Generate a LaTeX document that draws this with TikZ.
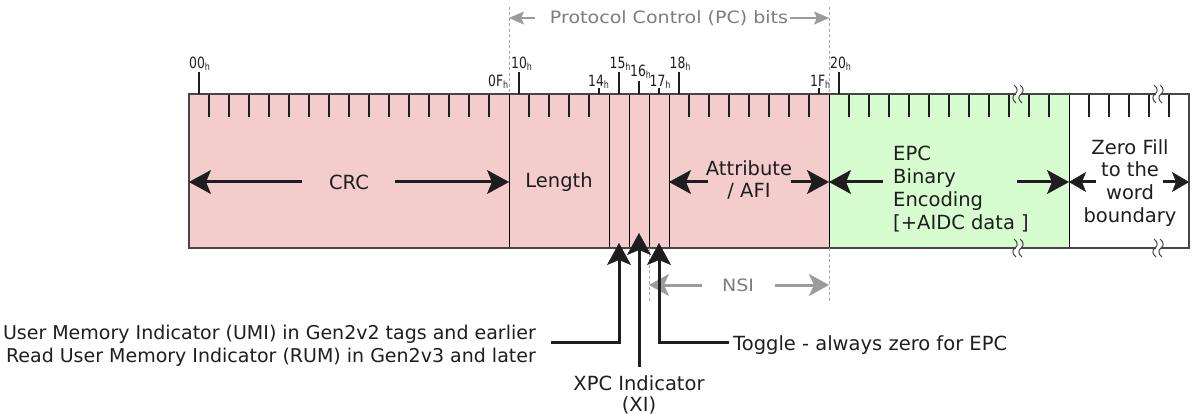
\documentclass[tikz,border=0pt]{standalone}
\usepackage{fontspec}
\setmainfont{DejaVu Sans}
\newfontfamily\hexfont[FakeStretch=0.8]{DejaVu Sans}
\newfontfamily\grayfont[FakeStretch=1.12]{DejaVu Sans}
\usetikzlibrary{arrows.meta}
\definecolor{pinkf}{RGB}{244,204,204}
\definecolor{greenf}{RGB}{214,252,208}
\definecolor{ink}{RGB}{30,30,30}
\definecolor{framec}{RGB}{70,70,70}
\definecolor{graytxt}{RGB}{125,125,125}
\definecolor{grayarr}{RGB}{155,155,155}
\definecolor{graydash}{RGB}{165,165,165}
\newcommand{\hexlab}[1]{#1\raisebox{-2.4pt}{\fontsize{10}{10}\selectfont h}}
\tikzset{
  bigarrow/.style={draw=ink, line width=3pt, line join=miter, -{Stealth[length=22pt,width=24pt,inset=5pt,line width=0.5pt]}},
  zfarrow/.style={draw=ink, line width=3pt, -{Stealth[length=17pt,width=20pt,inset=4pt,line width=0.5pt]}},
  nsiarrow/.style={draw=grayarr, line width=3pt, -{Stealth[length=20pt,width=22pt,inset=5pt,line width=0.5pt]}},
  pcarrow/.style={draw=grayarr, line width=2pt, -{Stealth[length=15pt,width=13pt,inset=3pt,line width=0.5pt]}},
  maintxt/.style={font=\fontsize{19.5}{22.8}\selectfont, inner sep=0pt, text=ink},
  graylabel/.style={font=\grayfont\fontsize{17}{19}\selectfont, inner sep=0pt, text=graytxt},
  hexnode/.style={font=\hexfont\fontsize{15.5}{15.5}\selectfont, inner sep=0pt, anchor=base west, text=ink},
  bittick/.style={draw=ink, line width=1.2pt},
  fieldline/.style={draw=black, line width=1pt},
  dashline/.style={draw=graydash, line width=0.8pt, dash pattern=on 3pt off 2.5pt},
  breakwave/.style={draw=framec, line width=1pt},
}
\begin{document}
\begin{tikzpicture}[x=1pt,y=-1pt]
\useasboundingbox (0,0) rectangle (1193,414);
% fills
\fill[pinkf] (189,94) rectangle (829,248);
\fill[greenf] (829,94) rectangle (1069,248);
\fill[white] (1069,94) rectangle (1189,248);
% inner bit ticks
\foreach \k in {1,...,15,17,18,19,20,25,26,...,31,33,34,...,43,45,46,47,48,49}
  \draw[bittick] (189+20*\k,94) -- ++(0,23.5);
% field lines
\foreach \fx in {509,609,629,649,669,829,1069}
  \draw[fieldline] (\fx,94) -- (\fx,248);
% frame
\draw[draw=framec, line width=1.5pt] (189,94) rectangle (1189,248);
% break marks
\foreach \bx/\by in {1018/94,1018/248,1158/94,1158/248}{
  \fill[white] (\bx-2.5,\by-1.6) rectangle (\bx+2.5,\by+1.6);
  \foreach \o in {-3,3}
    \draw[breakwave] (\bx+\o-1,\by-9) .. controls (\bx+\o+3,\by-6) and (\bx+\o+3,\by-2) .. (\bx+\o,\by)
      .. controls (\bx+\o-3,\by+2) and (\bx+\o-3,\by+6) .. (\bx+\o+1,\by+9);
}
% ticks above the frame
\foreach \tx in {199,519,619,679,839} \draw[bittick] (\tx,72) -- (\tx,94);
\draw[bittick] (639,81) -- (639,94);
\foreach \tx in {599,659,819} \draw[bittick] (\tx,88) -- (\tx,94);
% hex labels
\node[hexnode] (h00) at (189,68.5) {\hexlab{00}};
\node[hexnode] (h10) at (511,68.5) {\hexlab{10}};
\node[hexnode] (h15) at (609.5,68.5) {\hexlab{15}};
\node[hexnode] (h18) at (669.5,68.5) {\hexlab{18}};
\node[hexnode] (h20) at (830,68.5) {\hexlab{20}};
\node[hexnode] (h16) at (630,76.5) {\hexlab{16}};
\node[hexnode] (h0F) at (488,86.5) {\hexlab{0F}};
\node[hexnode] (h14) at (588,86.5) {\hexlab{14}};
\node[hexnode] (h17) at (649.5,86.5) {\hexlab{17}};
\node[hexnode] (h1F) at (810,86.5) {\hexlab{1F}};
% dashed guides
\draw[dashline] (509,7) -- (509,94);
\draw[dashline] (829,7) -- (829,94);
\draw[dashline] (829,248) -- (829,303);
\draw[dashline] (649,248) -- (649,303);
% PC bits
\node[graylabel] (pc) at (669,18) {Protocol Control (PC) bits};
\coordinate (pcL) at (509,18);
\coordinate (pcR) at (829,18);
\draw[pcarrow] ([xshift=-15pt]pc.west) -- (pcL);
\draw[pcarrow] ([xshift=2pt]pc.east) -- (pcR);
% NSI
\node[graylabel] (nsi) at (738,285) {NSI};
\coordinate (nsiL) at (649,285);
\coordinate (nsiR) at (829,285);
\draw[nsiarrow] ([xshift=-20pt]nsi.west) -- (nsiL);
\draw[nsiarrow] ([xshift=21pt]nsi.east) -- (nsiR);
% field texts and arrows
\coordinate (b00) at (189,182);
\coordinate (b10) at (509,182);
\coordinate (b18) at (669,182);
\coordinate (b20) at (829,182);
\coordinate (bE) at (1069,182);
\coordinate (bZ) at (1189,182);
\node[maintxt] (crc) at (349,182) {CRC};
\draw[bigarrow] ([xshift=-27pt]crc.west) -- (b00);
\draw[bigarrow] ([xshift=26pt]crc.east) -- (b10);
\node[maintxt] (len) at (559,182) {Length};
\node[maintxt, align=center] (afi) at (749,180) {Attribute\\/ AFI};
\coordinate (afiL) at (708,182);
\coordinate (afiR) at (791,182);
\draw[bigarrow] (afiL) -- (b18);
\draw[bigarrow] (afiR) -- (b20);
\node[maintxt, align=left] (epc) at (961,189) {EPC\\Binary\\Encoding\\{[+AIDC data ]}};
\coordinate (epcL) at (883,182);
\coordinate (epcR) at (1017,182);
\draw[bigarrow] (epcL) -- (b20);
\draw[bigarrow] (epcR) -- (bE);
\node[maintxt, align=center] (zf) at (1130,183) {Zero Fill\\to the\\word\\boundary};
\coordinate (zfL) at (1096,182);
\coordinate (zfR) at (1163,182);
\draw[zfarrow] (zfL) -- (bE);
\draw[zfarrow] (zfR) -- (bZ);
% indicators below
\node[maintxt, align=right, anchor=east, font=\fontsize{19}{22.7}\selectfont] (umi) at (536,345.5) {User Memory Indicator (UMI) in Gen2v2 tags and earlier\\Read User Memory Indicator (RUM) in Gen2v3 and later};
\node[maintxt, anchor=base west] (tog) at (733,350.5) {Toggle - always zero for EPC};
\node[maintxt, align=center, anchor=north, font=\fontsize{19.5}{20.5}\selectfont] (xi) at (639,375.5) {XPC Indicator\\(XI)};
\coordinate (umiTip) at (619,243);
\coordinate (xiTip) at (639,233);
\coordinate (togTip) at (659,243);
\draw[bigarrow] ([xshift=15pt]umi.east |- 0,342.7) -| (umiTip);
\draw[bigarrow] ([xshift=-4pt]tog.west |- 0,342.7) -| (togTip);
\draw[bigarrow] ([yshift=8.5pt]xi.north) -- (xiTip);
\end{tikzpicture}
\end{document}
